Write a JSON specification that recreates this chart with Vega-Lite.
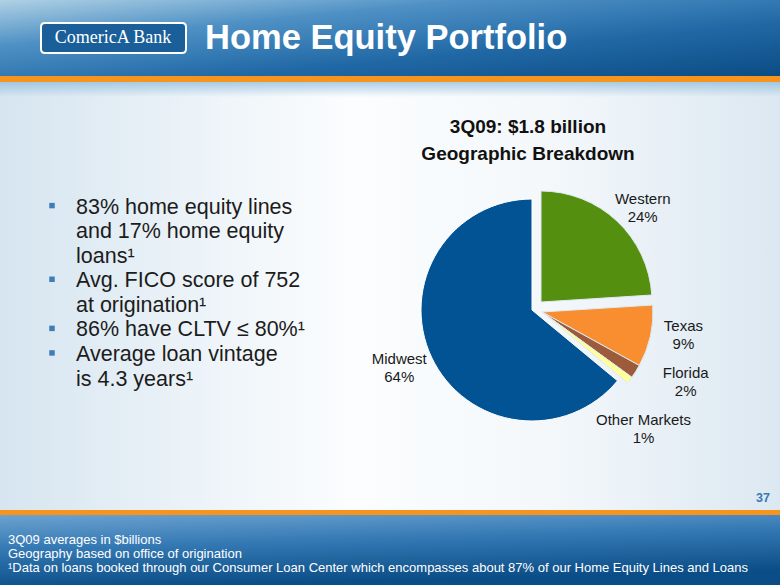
{
  "$schema": "https://vega.github.io/schema/vega-lite/v6.json",
  "padding": 0,
  "background": "#eef4f8",
  "spacing": 0,
  "config": {"view": {"stroke": null}, "font": "Liberation Sans"},
  "datasets": {
    "slide": [{"title": "Home Equity Portfolio", "logo": "ComericA Bank", "page": "37", "heading": ["3Q09: $1.8 billion", "Geographic Breakdown"]}],
    "slices": [
      {"region": "Western", "share": 0.24, "rank": 1},
      {"region": "Texas", "share": 0.09, "rank": 2},
      {"region": "Florida", "share": 0.02, "rank": 3},
      {"region": "Other Markets", "share": 0.01, "rank": 4},
      {"region": "Midwest", "share": 0.64, "rank": 5}
    ],
    "bullets": [
      {"line": 1, "text": "83% home equity lines", "first": true},
      {"line": 2, "text": "and 17% home equity", "first": false},
      {"line": 3, "text": "loans¹", "first": false},
      {"line": 4, "text": "Avg. FICO score of 752", "first": true},
      {"line": 5, "text": "at origination¹", "first": false},
      {"line": 6, "text": "86% have CLTV ≤ 80%¹", "first": true},
      {"line": 7, "text": "Average loan vintage", "first": true},
      {"line": 8, "text": "is 4.3 years¹", "first": false}
    ],
    "notes": [
      {"n": 1, "text": "3Q09 averages in $billions"},
      {"n": 2, "text": "Geography based on office of origination"},
      {"n": 3, "text": "¹Data on loans booked through our Consumer Loan Center which encompasses about 87% of our Home Equity Lines and Loans"}
    ]
  },
  "vconcat": [
    {
      "width": 780, "height": 76,
      "data": {"name": "slide"},
      "layer": [
        {"mark": {"type": "rect", "fill": {"gradient": "linear", "x1": 0, "y1": 0, "x2": 1, "y2": 1, "stops": [{"offset": 0, "color": "#b0d1e5"}, {"offset": 0.3, "color": "#4f91c5"}, {"offset": 0.65, "color": "#2068a5"}, {"offset": 1, "color": "#0c4c84"}]}}, "encoding": {}},
        {"mark": {"type": "point", "shape": "M-0.945,-0.2055L0.945,-0.2055Q1,-0.2055,1,-0.15L1,0.15Q1,0.2055,0.945,0.2055L-0.945,0.2055Q-1,0.2055,-1,0.15L-1,-0.15Q-1,-0.2055,-0.945,-0.2055Z", "size": 21025, "filled": true, "fill": "#1a5f99", "stroke": "#ffffff", "strokeWidth": 2, "opacity": 1, "xOffset": -276.5, "yOffset": 0}, "encoding": {}},
        {"mark": {"type": "text", "font": "Liberation Serif", "fontSize": 18, "fill": "#ffffff", "align": "center", "baseline": "alphabetic", "dx": -277, "dy": 5}, "encoding": {"text": {"field": "logo"}}},
        {"mark": {"type": "text", "font": "Liberation Sans", "fontWeight": "bold", "fontSize": 34.5, "fill": "#ffffff", "align": "left", "baseline": "alphabetic", "dx": -185, "dy": 10.5}, "encoding": {"text": {"field": "title"}}}
      ]
    },
    {
      "width": 780, "height": 6,
      "data": {"name": "slide"},
      "mark": {"type": "rect", "fill": "#f7941d"},
      "encoding": {}
    },
    {
      "width": 780, "height": 428,
      "layer": [
        {"data": {"name": "slide"}, "mark": {"type": "rect", "fill": {"gradient": "linear", "x1": 0, "y1": 0, "x2": 1, "y2": 0, "stops": [{"offset": 0, "color": "#d6e5f0"}, {"offset": 0.25, "color": "#ecf3f8"}, {"offset": 0.45, "color": "#fbfdfe"}, {"offset": 0.7, "color": "#f4f8fb"}, {"offset": 1, "color": "#dce8f1"}]}}, "encoding": {}},
        {"data": {"name": "slide"}, "mark": {"type": "rect", "fill": {"gradient": "linear", "x1": 0, "y1": 0, "x2": 0, "y2": 1, "stops": [{"offset": 0, "color": "rgba(140,185,218,0.7)"}, {"offset": 0.035, "color": "rgba(140,185,218,0)"}, {"offset": 1, "color": "rgba(140,185,218,0)"}]}}, "encoding": {}},
        {"data": {"name": "bullets"}, "mark": {"type": "text", "align": "left", "baseline": "alphabetic", "fontSize": 21.5, "fill": "#1c1c1c", "dx": -314},
         "encoding": {"y": {"field": "line", "type": "quantitative", "scale": {"domain": [-4.358, 13.069], "reverse": true, "nice": false, "zero": false}, "axis": null}, "text": {"field": "text"}}},
        {"data": {"name": "bullets"}, "transform": [{"filter": "datum.first"}], "mark": {"type": "point", "shape": "square", "filled": true, "size": 30, "color": "#3e7db5", "opacity": 1, "xOffset": -338, "yOffset": -8},
         "encoding": {"y": {"field": "line", "type": "quantitative", "scale": {"domain": [-4.358, 13.069], "reverse": true, "nice": false, "zero": false}, "axis": null}}},
        {"data": {"name": "slide"}, "mark": {"type": "text", "align": "center", "baseline": "alphabetic", "fontSize": 19, "fontWeight": "bold", "fill": "#111111", "lineHeight": 27, "dx": 138, "dy": -163}, "encoding": {"text": {"field": "heading"}}},
        {"data": {"name": "slide"}, "mark": {"type": "text", "align": "center", "baseline": "alphabetic", "fontSize": 12.5, "fontWeight": "bold", "fill": "#3a79b5", "dx": 373, "dy": 206}, "encoding": {"text": {"field": "page"}}},
        {"data": {"name": "slices"},
         "transform": [{"stack": "share", "groupby": [], "sort": [{"field": "rank", "order": "ascending"}], "as": ["s0", "s1"]}, {"filter": "datum.region === 'Midwest'"}],
         "mark": {"type": "arc", "outerRadius": 111, "stroke": "#ffffff", "strokeWidth": 1, "xOffset": 142, "yOffset": 14},
         "encoding": {"theta": {"field": "s0", "type": "quantitative", "stack": null, "scale": {"domain": [0, 1]}}, "theta2": {"field": "s1"},
           "color": {"field": "region", "type": "nominal", "scale": {"domain": ["Western", "Texas", "Florida", "Other Markets", "Midwest"], "range": ["#548f10", "#f98e30", "#9c5b3b", "#ffff99", "#015394"]}, "legend": null}}},
        {"data": {"name": "slices"},
         "transform": [{"stack": "share", "groupby": [], "sort": [{"field": "rank", "order": "ascending"}], "as": ["s0", "s1"]}, {"filter": "datum.region === 'Western'"}],
         "mark": {"type": "arc", "outerRadius": 111, "stroke": "#dfeaf2", "strokeWidth": 1, "xOffset": 151, "yOffset": 6},
         "encoding": {"theta": {"field": "s0", "type": "quantitative", "stack": null, "scale": {"domain": [0, 1]}}, "theta2": {"field": "s1"},
           "color": {"field": "region", "type": "nominal", "scale": {"domain": ["Western", "Texas", "Florida", "Other Markets", "Midwest"], "range": ["#548f10", "#f98e30", "#9c5b3b", "#ffff99", "#015394"]}, "legend": null}}},
        {"data": {"name": "slices"},
         "transform": [{"stack": "share", "groupby": [], "sort": [{"field": "rank", "order": "ascending"}], "as": ["s0", "s1"]}, {"filter": "datum.rank >= 2 && datum.rank <= 4"}],
         "mark": {"type": "arc", "outerRadius": 111, "stroke": "#dfeaf2", "strokeWidth": 1, "xOffset": 152, "yOffset": 16},
         "encoding": {"theta": {"field": "s0", "type": "quantitative", "stack": null, "scale": {"domain": [0, 1]}}, "theta2": {"field": "s1"},
           "color": {"field": "region", "type": "nominal", "scale": {"domain": ["Western", "Texas", "Florida", "Other Markets", "Midwest"], "range": ["#548f10", "#f98e30", "#9c5b3b", "#ffff99", "#015394"]}, "legend": null}}},
        {"data": {"name": "slices"},
         "mark": {"type": "text", "radius": 150, "xOffset": 142, "yOffset": 14, "dx": 8, "dy": -2, "align": "center", "baseline": "middle", "fontSize": 15, "lineHeight": 18, "fill": "#1a1a1a"},
         "encoding": {"theta": {"field": "share", "type": "quantitative", "stack": true, "scale": {"domain": [0, 1]}}, "order": {"field": "rank", "type": "quantitative", "sort": "ascending"},
           "text": {"value": {"expr": "datum.region === 'Western' ? [datum.region, format(datum.share, '.0%')] : ''"}}}},
        {"data": {"name": "slices"},
         "mark": {"type": "text", "radius": 150, "xOffset": 142, "yOffset": 14, "dx": 5, "dy": -17, "align": "center", "baseline": "middle", "fontSize": 15, "lineHeight": 18, "fill": "#1a1a1a"},
         "encoding": {"theta": {"field": "share", "type": "quantitative", "stack": true, "scale": {"domain": [0, 1]}}, "order": {"field": "rank", "type": "quantitative", "sort": "ascending"},
           "text": {"value": {"expr": "datum.region === 'Texas' ? [datum.region, format(datum.share, '.0%')] : ''"}}}},
        {"data": {"name": "slices"},
         "mark": {"type": "text", "radius": 150, "xOffset": 142, "yOffset": 14, "dx": 27, "dy": -17, "align": "center", "baseline": "middle", "fontSize": 15, "lineHeight": 18, "fill": "#1a1a1a"},
         "encoding": {"theta": {"field": "share", "type": "quantitative", "stack": true, "scale": {"domain": [0, 1]}}, "order": {"field": "rank", "type": "quantitative", "sort": "ascending"},
           "text": {"value": {"expr": "datum.region === 'Florida' ? [datum.region, format(datum.share, '.0%')] : ''"}}}},
        {"data": {"name": "slices"},
         "mark": {"type": "text", "radius": 150, "xOffset": 142, "yOffset": 14, "dx": -7, "dy": 18, "align": "center", "baseline": "middle", "fontSize": 15, "lineHeight": 18, "fill": "#1a1a1a"},
         "encoding": {"theta": {"field": "share", "type": "quantitative", "stack": true, "scale": {"domain": [0, 1]}}, "order": {"field": "rank", "type": "quantitative", "sort": "ascending"},
           "text": {"value": {"expr": "datum.region === 'Other Markets' ? [datum.region, format(datum.share, '.0%')] : ''"}}}},
        {"data": {"name": "slices"},
         "mark": {"type": "text", "radius": 150, "xOffset": 142, "yOffset": 14, "dx": 3, "dy": -15, "align": "center", "baseline": "middle", "fontSize": 15, "lineHeight": 18, "fill": "#1a1a1a"},
         "encoding": {"theta": {"field": "share", "type": "quantitative", "stack": true, "scale": {"domain": [0, 1]}}, "order": {"field": "rank", "type": "quantitative", "sort": "ascending"},
           "text": {"value": {"expr": "datum.region === 'Midwest' ? [datum.region, format(datum.share, '.0%')] : ''"}}}}
      ]
    },
    {
      "width": 780, "height": 5,
      "data": {"name": "slide"},
      "mark": {"type": "rect", "fill": "#f7941d"},
      "encoding": {}
    },
    {
      "width": 780, "height": 70,
      "layer": [
        {"data": {"name": "slide"}, "mark": {"type": "rect", "fill": {"gradient": "linear", "x1": 0, "y1": 0, "x2": 0.3, "y2": 1, "stops": [{"offset": 0, "color": "#6ca2cf"}, {"offset": 0.45, "color": "#3479b4"}, {"offset": 1, "color": "#0b4d86"}]}}, "encoding": {}},
        {"data": {"name": "notes"}, "mark": {"type": "text", "align": "left", "baseline": "alphabetic", "fontSize": 13, "fill": "#ffffff", "dx": -382},
         "encoding": {"y": {"field": "n", "type": "ordinal", "scale": {"type": "point", "range": [29, 57], "padding": 0}, "axis": null}, "text": {"field": "text"}}}
      ]
    }
  ]
}
